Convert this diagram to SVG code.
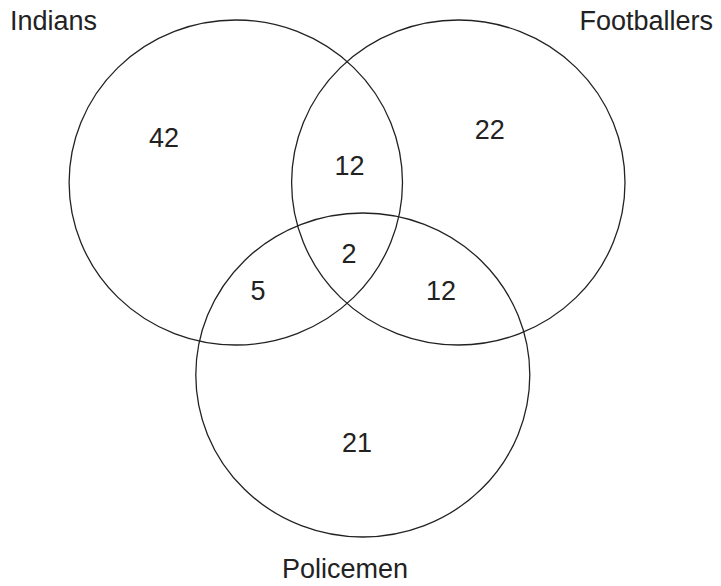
<svg xmlns="http://www.w3.org/2000/svg" width="721" height="586" viewBox="0 0 721 586">
<style>
.set{fill:none;stroke:#222;stroke-width:1.3}
.t{font-family:"Liberation Sans",Arial,sans-serif;font-size:27px;fill:#222}
.c{text-anchor:middle}
</style>
<rect width="721" height="586" fill="#fff"/>
<g id="indians">
<ellipse class="set" cx="235.8" cy="182.5" rx="166.7" ry="162.5"/>
<text class="t" x="10" y="30">Indians</text>
</g>
<g id="footballers">
<ellipse class="set" cx="458.3" cy="182.5" rx="166.7" ry="162.5"/>
<text class="t" x="713" y="30" text-anchor="end">Footballers</text>
</g>
<g id="policemen">
<ellipse class="set" cx="362.8" cy="375" rx="167" ry="162"/>
<text class="t c" x="345" y="578">Policemen</text>
</g>
<g id="counts">
<text class="t c" x="164" y="147">42</text>
<text class="t c" x="349.5" y="175">12</text>
<text class="t c" x="489.7" y="139">22</text>
<text class="t c" x="349" y="263">2</text>
<text class="t c" x="258" y="300">5</text>
<text class="t c" x="441" y="300">12</text>
<text class="t c" x="357" y="452">21</text>
</g>
<g id="connectors"></g>
</svg>
